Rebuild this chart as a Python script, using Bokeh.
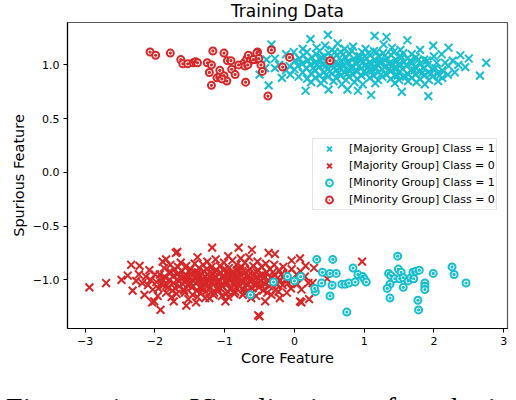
from bokeh.plotting import figure
from bokeh.models import Legend, LegendItem, FixedTicker, Range1d, Div
from bokeh.layouts import column
from bokeh.embed import file_html
from bokeh.resources import INLINE

# ---------------- data ----------------
title_text = "Training Data"
x_label = "Core Feature"
y_label = "Spurious Feature"
x_ticks = [-3, -2, -1, 0, 1, 2, 3]
x_tick_labels = ["\u22123", "\u22122", "\u22121", "0", "1", "2", "3"]
y_ticks = [-1.0, -0.5, 0.0, 0.5, 1.0]
y_tick_labels = ["\u22121.0", "\u22120.5", "0.0", "0.5", "1.0"]
legend_labels = ["[Majority Group] Class = 1", "[Majority Group] Class = 0",
                 "[Minority Group] Class = 1", "[Minority Group] Class = 0"]
caption_words = ["Figure", "1.", "Visualization", "of", "synthetic"]

# Majority group, class 1 (cyan crosses)
maj1_x = [-0.50, -0.37, -0.33, -0.28, -0.28, -0.18, 0.48, 0.23, 0.16, 0.49,
          0.76, 0.91, 1.15, 1.32, 1.62, 1.99, 2.21, 2.75, 2.66, 2.38,
          2.45, 2.35, 1.54, 1.92, 1.10, -0.42, -0.40, -0.22, -0.12, -0.12,
          2.50, 2.30, 2.27, 2.12,
          -0.06, -0.05, -0.07, 0.00, 0.01, -0.01, 0.06, 0.05, 0.07, 0.12,
          0.11, 0.13, 0.12, 0.18, 0.17, 0.19, 0.18, 0.24, 0.23, 0.25,
          0.24, 0.30, 0.29, 0.31, 0.30, 0.32, 0.36, 0.35, 0.37, 0.36,
          0.38, 0.42, 0.41, 0.43, 0.42, 0.44, 0.48, 0.47, 0.49, 0.48,
          0.54, 0.53, 0.55, 0.54, 0.56, 0.60, 0.59, 0.61, 0.60, 0.62,
          0.66, 0.65, 0.67, 0.66, 0.68, 0.72, 0.71, 0.73, 0.72, 0.74,
          0.78, 0.77, 0.79, 0.78, 0.84, 0.83, 0.85, 0.84, 0.86, 0.90,
          0.89, 0.91, 0.90, 0.96, 0.95, 0.97, 0.96, 0.98, 1.02, 1.01,
          1.03, 1.02, 1.08, 1.07, 1.09, 1.08, 1.14, 1.13, 1.15, 1.14,
          1.16, 1.20, 1.19, 1.21, 1.20, 1.26, 1.25, 1.27, 1.26, 1.28,
          1.32, 1.31, 1.33, 1.38, 1.37, 1.39, 1.38, 1.40, 1.44, 1.43,
          1.45, 1.44, 1.50, 1.49, 1.51, 1.50, 1.52, 1.56, 1.55, 1.57,
          1.56, 1.62, 1.61, 1.63, 1.62, 1.68, 1.67, 1.69, 1.68, 1.74,
          1.73, 1.75, 1.74, 1.80, 1.79, 1.81, 1.80, 1.86, 1.85, 1.87,
          1.86, 1.92, 1.91, 1.93, 1.99, 1.98, 2.00, 2.05, 2.04, 2.06,
          2.12, 2.11, 2.21, 2.20, 0.33, 0.45, 0.51, 0.57, 0.63, 0.69,
          0.75, 0.81, 0.87, 0.93, 0.99, 1.05, 1.11, 1.17, 1.23, 1.29,
          1.35, 1.41, 1.47, 1.53,
          0.27, 0.39, 0.46, 0.58, 0.64, 0.70, 0.76, 0.82, 0.88, 0.94,
          1.00, 1.06, 1.12, 1.18, 1.24, 1.30, 1.36, 1.42, 1.48, 1.54,
          1.60, 1.66, 1.72, 1.78, 1.84, 1.90, 1.96, 2.02, 2.08, 2.16]
maj1_y = [0.91, 0.81, 1.19, 0.97, 1.06, 0.88, 1.28, 1.24, 0.76, 0.77,
          0.77, 0.76, 1.27, 1.26, 1.23, 1.18, 1.16, 1.02, 0.90, 1.09,
          0.98, 1.00, 0.75, 0.71, 0.72, 0.97, 1.05, 1.00, 0.95, 1.10,
          1.06, 0.93, 1.04, 0.88,
          0.91, 1.08, 0.99, 0.96, 1.04, 1.12, 0.89, 0.99, 1.06, 0.93,
          1.01, 1.09, 1.15, 0.87, 0.97, 1.04, 1.12, 0.92, 1.00, 1.07,
          0.84, 0.95, 1.02, 1.10, 0.88, 1.16, 0.90, 0.98, 1.05, 1.13,
          0.83, 0.93, 1.00, 1.08, 0.86, 1.18, 0.96, 1.03, 1.11, 0.89,
          0.92, 0.99, 1.06, 1.14, 0.85, 0.95, 1.02, 1.09, 0.88, 1.20,
          0.90, 0.97, 1.04, 1.12, 0.82, 0.93, 1.00, 1.07, 1.15, 0.86,
          0.96, 1.03, 1.10, 0.89, 0.91, 0.99, 1.06, 1.17, 0.84, 0.94,
          1.01, 1.08, 0.87, 0.97, 1.04, 1.12, 0.90, 0.82, 0.92, 0.99,
          1.06, 1.15, 0.95, 1.02, 1.09, 0.88, 0.90, 0.98, 1.05, 1.13,
          0.83, 0.93, 1.00, 1.08, 0.86, 0.96, 1.03, 1.11, 0.89, 1.19,
          0.91, 0.99, 1.06, 0.94, 1.02, 1.09, 0.87, 1.16, 0.90, 0.97,
          1.05, 0.83, 0.93, 1.00, 1.08, 0.86, 1.14, 0.89, 0.96, 1.03,
          1.11, 0.92, 0.99, 0.85, 1.06, 0.88, 0.95, 1.02, 1.10, 0.91,
          0.98, 0.84, 1.07, 0.87, 0.94, 1.01, 1.14, 0.90, 0.97, 0.82,
          1.05, 0.93, 1.00, 0.86, 0.96, 0.89, 1.08, 0.92, 1.02, 0.85,
          0.95, 1.10, 0.99, 0.91, 1.00, 0.99, 1.01, 0.98, 1.01, 0.99,
          1.02, 0.97, 1.02, 0.99, 1.03, 0.98, 1.01, 0.97, 1.02, 0.98,
          1.01, 1.00, 0.97, 1.00,
          0.97, 1.07, 0.91, 1.12, 0.93, 1.10, 0.92, 1.13, 0.95, 1.08,
          0.94, 1.11, 0.95, 1.12, 0.91, 1.09, 0.96, 1.12, 0.90, 1.07,
          0.89, 1.04, 0.95, 1.05, 0.93, 1.04, 0.92, 0.97, 0.90, 1.02]

# Majority group, class 0 (red crosses)
maj0_x = [-2.94, -2.70, -2.48, -2.34, -2.32, -2.22, -1.92, -2.01, -1.70, -1.18,
          -0.80, -0.61, -0.52, -1.55, -0.99, -1.39, -1.68, 0.97, 0.47, 0.21,
          0.10, 0.08, -0.04, 0.28, 0.26, -0.28, -0.50, -2.27, -2.18, -2.08,
          -2.04, -1.89, -1.84, -2.03, -1.96, -1.73, -1.41, -1.28, -0.37, -0.42,
          -0.21, 0.08, -2.13, -2.10, -2.23, -2.15, -2.39, -2.00, -1.98, -2.06,
          -1.93, -1.91, -1.95, -1.87, -1.85, -1.88, -1.84, -1.80, -1.79, -1.81,
          -1.78, -1.74, -1.73, -1.75, -1.72, -1.76, -1.67, -1.68, -1.66, -1.65,
          -1.69, -1.61, -1.62, -1.60, -1.59, -1.63, -1.55, -1.54, -1.56, -1.53,
          -1.57, -1.52, -1.49, -1.48, -1.50, -1.47, -1.46, -1.43, -1.42, -1.44,
          -1.41, -1.40, -1.37, -1.36, -1.38, -1.35, -1.34, -1.39, -1.31, -1.30,
          -1.32, -1.29, -1.33, -1.25, -1.24, -1.26, -1.23, -1.27, -1.22, -1.19,
          -1.18, -1.20, -1.17, -1.21, -1.16, -1.13, -1.12, -1.14, -1.11, -1.10,
          -1.15, -1.07, -1.06, -1.08, -1.05, -1.09, -1.04, -1.01, -1.00, -1.02,
          -0.99, -1.03, -0.98, -0.95, -0.94, -0.96, -0.93, -0.97, -0.92, -0.95,
          -0.89, -0.88, -0.90, -0.87, -0.91, -0.86, -0.83, -0.82, -0.84, -0.81,
          -0.85, -0.77, -0.76, -0.78, -0.75, -0.79, -0.74, -0.71, -0.70, -0.72,
          -0.69, -0.73, -0.65, -0.64, -0.66, -0.63, -0.67, -0.62, -0.59, -0.58,
          -0.60, -0.57, -0.61, -0.53, -0.52, -0.54, -0.51, -0.55, -0.47, -0.46,
          -0.48, -0.45, -0.41, -0.40, -0.42, -0.39, -0.35, -0.34, -0.36, -0.33,
          -0.29, -0.28, -0.30, -0.27, -0.22, -0.21, -0.23, -0.16, -0.15, -0.17,
          -0.10, -0.09, -0.11, -0.04, -0.03, -0.05, 0.03, 0.04, 0.09, 0.10,
          0.15, 0.16, 0.20, -1.58, -1.51, -1.45, -1.40, -1.33, -1.28, -1.22,
          -1.15, -1.09, -1.03, -0.97, -0.91, -0.86, -0.80, -0.74, -0.68, -0.62,
          -0.56, -0.50, -0.44,
          -1.90, -1.83, -1.77, -1.71, -1.64, -1.58, -1.51, -1.45, -1.38, -1.32,
          -1.26, -1.20, -1.14, -1.08, -1.02, -0.96, -0.90, -0.84, -0.78, -0.72,
          -0.66, -0.60, -0.54, -0.48, -0.43, -0.37, -0.31, -0.25, -0.19, -0.13]
maj0_y = [-1.07, -1.03, -1.00, -0.86, -1.10, -0.87, -1.28, -1.20, -0.75, -0.70,
          -0.70, -0.72, -1.33, -1.24, -1.20, -0.79, -0.74, -0.83, -0.99, -1.18,
          -1.21, -0.80, -0.82, -0.89, -1.03, -0.76, -1.34, -1.01, -1.03, -0.91,
          -1.21, -0.83, -0.81, -1.09, -1.15, -1.20, -1.21, -1.17, -0.75, -1.20,
          -1.17, -1.20, -0.97, -1.05, -0.95, -1.14, -0.96, -0.95, -1.02, -1.00,
          -0.95, -1.03, -1.08, -0.89, -0.98, -1.05, -1.12, -0.93, -1.00, -1.07,
          -0.86, -0.97, -1.03, -1.10, -0.90, -1.16, -0.88, -0.95, -1.01, -1.06,
          -1.13, -0.92, -0.99, -1.04, -1.09, -0.84, -0.87, -0.96, -1.00, -1.05,
          -1.12, -1.18, -0.90, -0.94, -1.02, -1.07, -1.14, -0.85, -0.93, -0.98,
          -1.03, -1.10, -0.89, -0.97, -1.01, -1.06, -1.12, -1.16, -0.86, -0.92,
          -0.99, -1.04, -1.09, -0.83, -0.95, -1.00, -1.05, -1.11, -1.17, -0.88,
          -0.94, -0.98, -1.03, -1.08, -1.14, -0.81, -0.91, -0.97, -1.02, -1.07,
          -1.12, -0.87, -0.93, -1.00, -1.05, -1.10, -1.15, -0.84, -0.90, -0.96,
          -1.01, -1.06, -1.13, -0.78, -0.89, -0.95, -1.00, -1.04, -1.09, -1.16,
          -0.82, -0.92, -0.98, -1.03, -1.08, -1.13, -0.86, -0.91, -0.97, -1.02,
          -1.11, -0.80, -0.88, -0.95, -1.00, -1.06, -1.14, -0.84, -0.93, -0.99,
          -1.04, -1.09, -0.79, -0.90, -0.96, -1.02, -1.10, -1.17, -0.87, -0.94,
          -1.00, -1.05, -1.12, -0.83, -0.91, -0.98, -1.07, -1.15, -0.88, -0.95,
          -1.01, -1.10, -0.85, -0.93, -1.04, -1.12, -0.90, -0.98, -1.06, -1.14,
          -0.86, -0.96, -1.02, -1.09, -0.91, -1.00, -1.11, -0.88, -0.97, -1.05,
          -0.94, -1.03, -1.12, -0.90, -1.00, -1.08, -0.95, -1.04, -0.92, -1.09,
          -0.97, -0.87, -1.03, -0.97, -0.99, -1.01, -0.96, -1.02, -0.97, -1.01,
          -0.99, -1.03, -0.98, -1.02, -0.96, -1.00, -0.98, -1.03, -0.97, -0.99,
          -1.02, -0.96, -0.99,
          -0.99, -1.05, -0.93, -1.08, -0.97, -1.10, -0.92, -1.06, -0.93, -1.07,
          -0.90, -1.12, -0.93, -1.07, -0.91, -1.11, -0.94, -1.07, -0.91, -1.12,
          -0.92, -1.08, -0.93, -1.05, -0.97, -1.01, -0.93, -1.04, -0.95, -1.00]

# Minority group, class 1 (cyan circles)
min1_x = [0.32, 0.55, 0.40, 0.51, 0.60, 0.39, 0.54, 0.30, 0.29, 0.51,
          0.75, 0.68, 0.73, 0.78, 0.84, 0.87, 0.91, 0.98, 1.00, 1.03,
          1.48, 1.35, 1.38, 1.49, 1.53, 1.44, 1.51, 1.56, 1.37, 1.33,
          1.37, 1.56, 1.63, 1.67, 1.70, 1.74, 1.79, 1.71, 1.77, 1.78,
          1.87, 1.87, 1.87, 1.99, 2.26, 2.29, 2.46, -0.63, -0.30, -0.10,
          0.00, 0.09]
min1_y = [-0.81, -0.81, -0.93, -0.94, -0.94, -1.03, -1.05, -1.11, -1.08, -1.15,
          -1.30, -1.04, -1.04, -1.03, -0.89, -1.02, -0.95, -0.97, -0.99, -1.02,
          -0.78, -0.94, -0.96, -0.90, -0.93, -0.99, -0.99, -0.98, -1.04, -1.08,
          -1.17, -1.07, -1.01, -0.98, -0.93, -0.92, -0.91, -0.99, -1.19, -1.28,
          -1.03, -1.06, -1.09, -0.94, -0.88, -0.95, -1.03, -1.14, -1.02, -0.97,
          -1.01, -0.97]

# Minority group, class 0 (red circles)
min0_x = [-2.07, -1.99, -1.78, -1.63, -1.60, -1.53, -1.45, -1.42, -1.39, -1.25,
          -1.19, -1.22, -1.17, -1.01, -1.19, -1.11, -1.07, -1.01, -0.97, -1.04,
          -1.07, -0.96, -0.91, -0.90, -0.85, -0.80, -0.70, -0.72, -0.68, -0.66,
          -0.71, -0.63, -0.67, -0.53, -0.56, -0.54, -0.51, -0.48, -0.46, -0.38,
          -0.33, -0.17, -0.07, 0.51, -0.59]
min0_y = [1.12, 1.09, 1.11, 1.05, 1.01, 1.01, 1.02, 1.03, 1.02, 1.02,
          1.00, 0.93, 1.13, 1.11, 0.81, 0.88, 0.89, 0.90, 0.85, 0.87,
          0.95, 1.04, 1.04, 0.96, 0.91, 1.00, 0.84, 1.02, 1.06, 1.09,
          0.99, 1.04, 1.00, 1.12, 1.05, 1.11, 1.06, 1.00, 0.94, 0.71,
          1.14, 0.98, 1.07, 1.04, 1.05]

# ---------------- styling ----------------
CYAN = "#17becf"
RED = "#d62728"
FONT = "DejaVu Sans"

p = figure(width=516, height=392, output_backend="svg", toolbar_location=None,
           x_range=Range1d(-3.254, 3.055), y_range=Range1d(-1.453, 1.395),
           min_border_left=67, min_border_right=9, min_border_top=21,
           min_border_bottom=64, background_fill_color="white",
           border_fill_color="white")

p.title.text = title_text
p.title.text_font = FONT
p.title.text_font_size = "17px"
p.title.text_font_style = "normal"
p.title.align = "center"
p.title.vertical_align = "top"
p.title.standoff = 0
p.title.text_color = "black"

p.xgrid.visible = False
p.ygrid.visible = False
p.outline_line_color = "#555555"
p.outline_line_width = 1.2

p.xaxis.ticker = FixedTicker(ticks=x_ticks)
p.xaxis.major_label_overrides = {t: s for t, s in zip(x_ticks, x_tick_labels)}
p.yaxis.ticker = FixedTicker(ticks=y_ticks)
p.yaxis.major_label_overrides = {t: s for t, s in zip(y_ticks, y_tick_labels)}
p.xaxis.axis_label = x_label
p.yaxis.axis_label = y_label
for ax in (p.xaxis, p.yaxis):
    ax.axis_line_color = "black"
    ax.axis_line_width = 1.2
    ax.major_tick_line_color = "black"
    ax.major_tick_line_width = 1.0
    ax.major_tick_in = 0
    ax.major_tick_out = 4
    ax.minor_tick_line_color = None
    ax.major_label_text_font = FONT
    ax.major_label_text_font_size = "11px"
    ax.major_label_text_color = "black"
    ax.major_label_standoff = 4
    ax.axis_label_text_font = FONT
    ax.axis_label_text_font_size = "14.5px"
    ax.axis_label_text_font_style = "normal"
    ax.axis_label_text_color = "black"
p.xaxis.axis_label_standoff = 2
p.yaxis.axis_label_standoff = 3

r_maj1 = p.scatter(maj1_x, maj1_y, marker="x", size=11, line_color=CYAN, line_width=2)
r_maj0 = p.scatter(maj0_x, maj0_y, marker="x", size=11, line_color=RED, line_width=2)
r_min1 = p.scatter(min1_x, min1_y, marker="circle_dot", size=7, fill_color="white",
                   line_color=CYAN, line_width=2)
p.scatter(min1_x, min1_y, marker="circle", size=3.2, fill_color=CYAN, line_color=None)
r_min0 = p.scatter(min0_x, min0_y, marker="circle_dot", size=7, fill_color="white",
                   line_color=RED, line_width=2)
p.scatter(min0_x, min0_y, marker="circle", size=3.2, fill_color=RED, line_color=None)

legend = Legend(items=[
    LegendItem(label=legend_labels[0], renderers=[r_maj1]),
    LegendItem(label=legend_labels[1], renderers=[r_maj0]),
    LegendItem(label=legend_labels[2], renderers=[r_min1]),
    LegendItem(label=legend_labels[3], renderers=[r_min0]),
], location=(245, 118))
legend.label_text_font = FONT
legend.label_text_font_size = "11px"
legend.label_text_color = "black"
legend.glyph_width = 30
legend.glyph_height = 17
legend.label_height = 17
legend.spacing = 0
legend.padding = 1
legend.label_standoff = 5
legend.margin = 0
legend.border_line_color = "#cccccc"
legend.border_line_width = 1
legend.background_fill_alpha = 0.8
p.add_layout(legend, "center")

# caption fragment (only the top of its first line is visible in the reference)
caption_widths = [102, 82, 181, 30, None]
spans = "".join(
    '<span style="display:inline-block;%s">%s</span>' % (
        ("width:%dpx;" % w) if w else "", word)
    for word, w in zip(caption_words, caption_widths))
caption = Div(
    text=('<div style="font-family:\'Liberation Serif\';font-size:30px;'
          'line-height:30px;white-space:nowrap;margin-top:-4.5px;'
          'padding-left:1px;color:black;">' + spans + '</div>'),
    width=516, height=8, styles={"overflow": "hidden"})

layout = column(p, caption, spacing=0)
open("out.html", "w").write(file_html(layout, INLINE))
